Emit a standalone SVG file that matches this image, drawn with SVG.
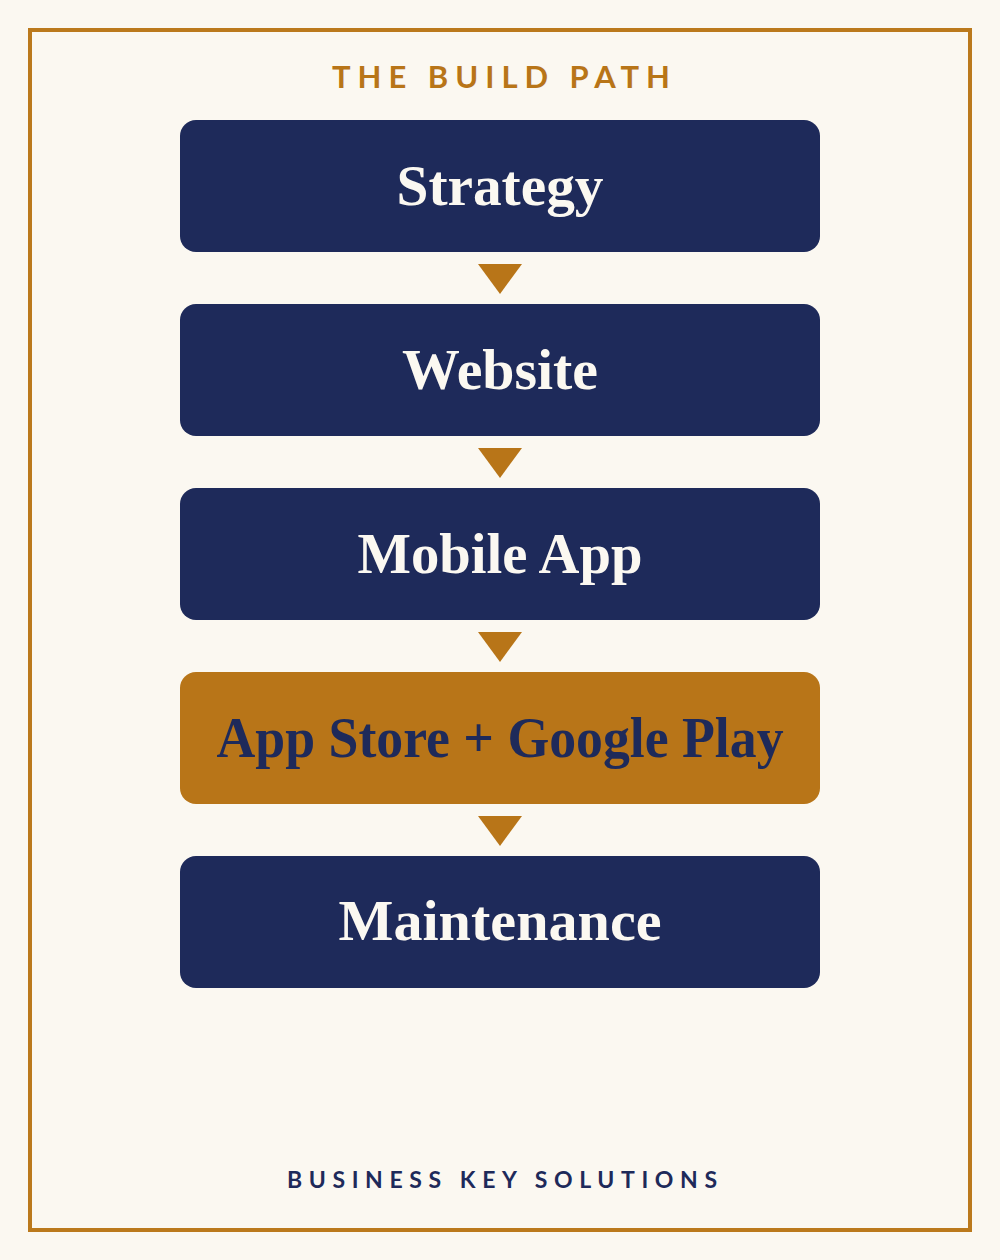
<svg xmlns="http://www.w3.org/2000/svg" width="1000" height="1260" viewBox="0 0 1000 1260">
<style>
.node{fill:#1e2a5a}
.hl{fill:#b87518}
.lbl{font-family:"Liberation Serif","DejaVu Serif",serif;font-weight:bold;font-size:56px;fill:#fbf8f1}
.lbl-dark{fill:#1e2a5a}
.arrow{fill:#b87518}
.cap{font-family:Lato,"Liberation Sans",sans-serif;font-weight:bold}
</style>
<rect x="0" y="0" width="1000" height="1260" fill="#fbf8f1"/>
<rect x="30" y="30" width="940" height="1200" fill="none" stroke="#bb791c" stroke-width="4"/>
<text class="cap" x="332" y="88" font-size="31" fill="#b87518" textLength="338">THE BUILD PATH</text>
<g id="connectors">
<polygon class="arrow" points="478,264 522,264 500,294"/>
<polygon class="arrow" points="478,448 522,448 500,478"/>
<polygon class="arrow" points="478,632 522,632 500,662"/>
<polygon class="arrow" points="478,816 522,816 500,846"/>
</g>
<g id="strategy">
<rect class="node" x="180" y="120" width="640" height="132" rx="16"/>
<text class="lbl" x="500" y="205" text-anchor="middle" textLength="207" lengthAdjust="spacingAndGlyphs">Strategy</text>
</g>
<g id="website">
<rect class="node" x="180" y="304" width="640" height="132" rx="16"/>
<text class="lbl" x="500" y="389" text-anchor="middle" textLength="196" lengthAdjust="spacingAndGlyphs">Website</text>
</g>
<g id="mobile-app">
<rect class="node" x="180" y="488" width="640" height="132" rx="16"/>
<text class="lbl" x="500" y="573" text-anchor="middle" textLength="285" lengthAdjust="spacingAndGlyphs">Mobile App</text>
</g>
<g id="app-store">
<rect class="hl" x="180" y="672" width="640" height="132" rx="16"/>
<text class="lbl lbl-dark" x="500" y="757" text-anchor="middle" textLength="567" lengthAdjust="spacingAndGlyphs">App Store + Google Play</text>
</g>
<g id="maintenance">
<rect class="node" x="180" y="856" width="640" height="132" rx="16"/>
<text class="lbl" x="500" y="940" text-anchor="middle" textLength="323" lengthAdjust="spacingAndGlyphs">Maintenance</text>
</g>
<text class="cap" x="287" y="1188" font-size="23" fill="#1e2a5a" textLength="430">BUSINESS KEY SOLUTIONS</text>
</svg>
